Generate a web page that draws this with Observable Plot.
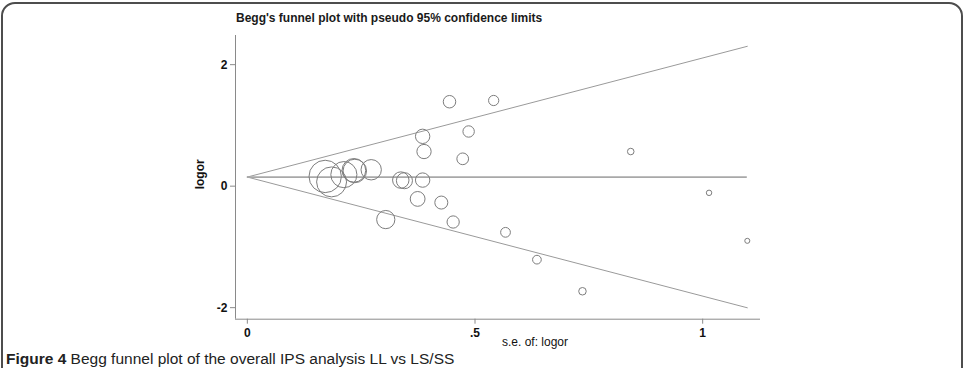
<!DOCTYPE html>
<html>
<head>
<meta charset="utf-8">
<script src="https://cdn.jsdelivr.net/npm/d3@7"></script>
<script src="https://cdn.jsdelivr.net/npm/@observablehq/plot@0.6"></script>
<style>
  html, body { margin: 0; padding: 0; background: #fff; overflow: hidden; }
  body { width: 965px; height: 368px; position: relative; font-family: "Liberation Sans", Arial, sans-serif; }
  #frame { position: absolute; left: 1px; top: 2px; width: 962px; height: 420px;
           border: 2px solid #4d4d4d; border-radius: 14px; box-sizing: border-box; }
  #title { position: absolute; left: 236px; top: 11px; font-size: 12px; font-weight: bold; color: #1a1a1a; white-space: nowrap; }
  #chart { position: absolute; left: 0; top: 0; }
  #caption { position: absolute; left: 6px; top: 351px; font-size: 15.5px; line-height: 16px; color: #222; white-space: nowrap; }
</style>
</head>
<body>
<div id="frame"></div>
<div id="chart"></div>
<div id="title">Begg's funnel plot with pseudo 95% confidence limits</div>
<div id="caption"><b>Figure 4</b> Begg funnel plot of the overall IPS analysis LL vs LS/SS</div>
<script>
// Study-level standard errors and log odds ratios
const se = [0.444, 0.541, 0.486, 0.385, 0.388, 0.473, 0.171, 0.185, 0.212, 0.234, 0.236,
            0.272, 0.337, 0.345, 0.385, 0.374, 0.426, 0.304, 0.452, 0.567, 0.636, 0.736,
            0.842, 1.014, 1.098];
const logor = [1.39, 1.41, 0.90, 0.82, 0.57, 0.45, 0.16, 0.07, 0.19, 0.26, 0.25,
               0.27, 0.10, 0.09, 0.10, -0.21, -0.27, -0.55, -0.59, -0.76, -1.21, -1.73,
               0.57, -0.11, -0.90];
// Pooled log odds ratio (centre of the funnel)
const pooled = 0.15;
// Axis ticks and their labels
const xTicks = [0, 0.5, 1];
const xTickLabels = ["0", ".5", "1"];
const yTicks = [-2, 0, 2];
const yTickLabels = ["-2", "0", "2"];

const studies = se.map((s, i) => ({se: s, logor: logor[i], weight: 1 / (s * s)}));
const seMax = d3.max(se);
const limits = [
  {se: 0, lower: pooled, upper: pooled},
  {se: seMax, lower: pooled - 1.96 * seMax, upper: pooled + 1.96 * seMax}
];

const xDomain = [-0.026, 1.127];
const yDomain = [-2.19, 2.48];
const axisGray = "#8a8a8a";

const chart = Plot.plot({
  width: 965,
  height: 368,
  marginLeft: 235,
  marginRight: 205,
  marginTop: 35,
  marginBottom: 49.3,
  style: {fontFamily: "'Liberation Sans', Arial, sans-serif", fontSize: "12px", background: "transparent"},
  x: {domain: xDomain},
  y: {domain: yDomain},
  r: {type: "sqrt", range: [0, 16.2]},
  marks: [
    Plot.ruleX([xDomain[0]], {stroke: axisGray, strokeWidth: 1}),
    Plot.ruleY([yDomain[0]], {stroke: axisGray, strokeWidth: 1}),
    Plot.axisX({ticks: xTicks, tickFormat: d => xTickLabels[xTicks.indexOf(d)], tickSize: 5,
                tickPadding: 4, stroke: axisGray, fill: "#111", fontWeight: "bold", label: null}),
    Plot.axisY({ticks: yTicks, tickFormat: d => yTickLabels[yTicks.indexOf(d)], tickSize: 5,
                tickPadding: 3, stroke: axisGray, fill: "#111", fontWeight: "bold", label: null}),
    Plot.text(["logor"], {frameAnchor: "left", dx: -35, dy: 12, rotate: -90, fill: "#111",
                          fontWeight: "bold", fontSize: 12}),
    Plot.text(["s.e. of: logor"], {frameAnchor: "bottom", dx: 37, dy: 27, fill: "#111", fontSize: 12}),
    // pseudo 95% confidence limits
    Plot.line(limits, {x: "se", y: "upper", stroke: "#9a9a9a", strokeWidth: 1}),
    Plot.line(limits, {x: "se", y: "lower", stroke: "#9a9a9a", strokeWidth: 1}),
    Plot.ruleY([pooled], {x1: 0, x2: seMax, stroke: "#a8a8a8", strokeWidth: 1.8}),
    // studies, sized by inverse variance
    Plot.dot(studies, {x: "se", y: "logor", r: "weight", stroke: "#7d7d7d", strokeWidth: 1, fill: "none"})
  ]
});
document.getElementById("chart").appendChild(chart);
</script>
</body>
</html>
